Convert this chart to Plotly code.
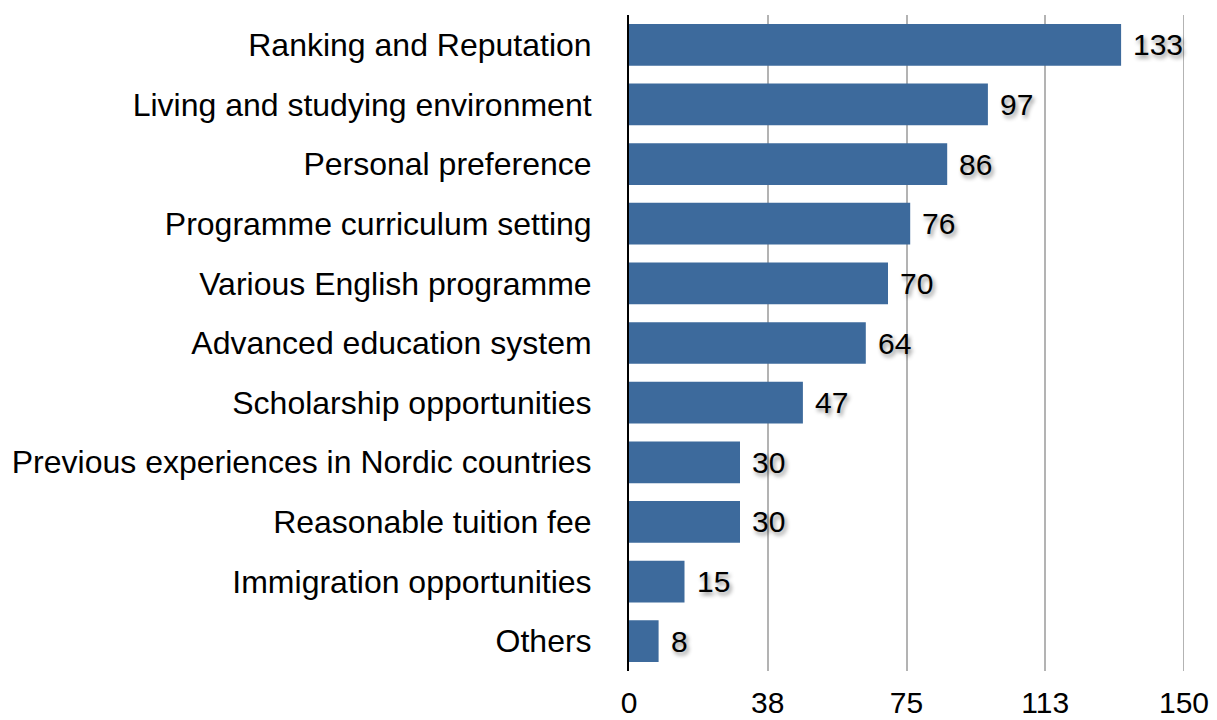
import plotly.graph_objects as go

categories = [
    "Ranking and Reputation",
    "Living and studying environment",
    "Personal preference",
    "Programme curriculum setting",
    "Various English programme",
    "Advanced education system",
    "Scholarship opportunities",
    "Previous experiences in Nordic countries",
    "Reasonable tuition fee",
    "Immigration opportunities",
    "Others",
]
counts = [133, 97, 86, 76, 70, 64, 47, 30, 30, 15, 8]

tick_values = [0, 37.5, 75, 112.5, 150]
tick_labels = ["0", "38", "75", "113", "150"]

FONT = "Liberation Sans, Arial, sans-serif"
GRID = "#b3b3b3"

fig = go.Figure(
    go.Bar(
        y=categories,
        x=counts,
        orientation="h",
        marker=dict(color="#3d6a9c", line=dict(width=0)),
        hoverinfo="x+y",
    )
)

# value labels just past the end of each bar, with a soft drop shadow
for cat, val in zip(categories, counts):
    fig.add_annotation(
        x=val, y=cat, xref="x", yref="y",
        text=str(val), showarrow=False,
        xanchor="left", yanchor="middle", xshift=10,
        font=dict(family=FONT, size=30, color="#000000",
                  shadow="2px 3px 4px rgba(0,0,0,0.45)"),
    )

# gridline at the right end of the axis (plotly skips the one on the edge)
fig.add_shape(
    type="line", xref="x", yref="paper",
    x0=tick_values[-1], x1=tick_values[-1], y0=0, y1=1,
    line=dict(color=GRID, width=2), layer="below",
)

fig.update_layout(
    width=1217,
    height=720,
    margin=dict(l=629, r=33, t=15, b=49),
    paper_bgcolor="white",
    plot_bgcolor="white",
    bargap=0.3,
    showlegend=False,
    font=dict(family=FONT, size=30, color="#000000"),
)

fig.update_xaxes(
    range=[0, 150],
    tickvals=tick_values,
    ticktext=tick_labels,
    showgrid=True,
    gridcolor=GRID,
    gridwidth=2,
    zeroline=False,
    showline=False,
    ticks="",
    automargin=False,
    ticklabelstandoff=11,
    tickfont=dict(family=FONT, size=30, color="#000000"),
)

fig.update_yaxes(
    autorange="reversed",
    showline=True,
    linecolor="#000000",
    linewidth=2,
    ticks="",
    automargin=False,
    ticklabelstandoff=29,
    tickfont=dict(family=FONT, size=32, color="#000000"),
)

fig.write_html("out.html")
